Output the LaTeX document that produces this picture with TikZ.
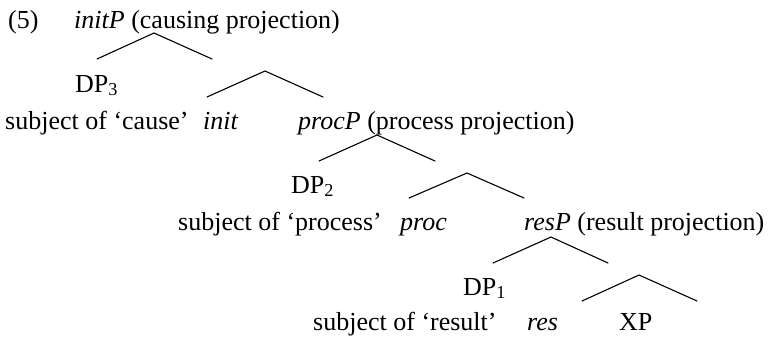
\documentclass[tikz,border=0pt]{standalone}
\usepackage{fontspec}
\setmainfont{Liberation Serif}
\begin{document}
\begin{tikzpicture}[x=1pt,y=-1pt,
  lbl/.style={anchor=base west,inner sep=0pt,font=\fontsize{26}{30}\selectfont},
  lble/.style={anchor=base east,inner sep=0pt,font=\fontsize{26}{30}\selectfont},
  br/.style={line width=1.1pt,line cap=round,line join=miter}]
\useasboundingbox (0,0) rectangle (770,338);
% level 0
\node[lbl] (ex) at (8,28) {(5)};
\node[lbl] (initP) at (74,28) {\textit{initP} (causing projection)};
% level 1
\node[lbl] (dp3) at (75,92) {DP\textsubscript{3}};
\node[lbl] (subj3) at (5,129) {subject of ‘cause’};
\node[lbl] (init) at (203,129) {\textit{init}};
\node[lbl] (procP) at (298,129) {\textit{procP} (process projection)};
% level 2
\node[lbl] (dp2) at (291,193) {DP\textsubscript{2}};
\node[lbl] (subj2) at (178,230) {subject of ‘process’};
\node[lbl] (proc) at (400,230) {\textit{proc}};
\node[lbl] (resP) at (524,230) {\textit{resP} (result projection)};
% level 3
\node[lbl] (dp1) at (463,295) {DP\textsubscript{1}};
\node[lbl] (subj1) at (313,330) {subject of ‘result’};
\node[lbl] (res) at (527,330) {\textit{res}};
\node[lbl] (xp) at (619,330) {XP};
% branch points
\coordinate (a0) at (154,33);  \coordinate (l0) at (97,59);  \coordinate (r0) at (212,59);
\coordinate (a1) at (265,71);  \coordinate (l1) at (207,97); \coordinate (r1) at (323,97);
\coordinate (a2) at (377,135); \coordinate (l2) at (319,161); \coordinate (r2) at (435,161);
\coordinate (a3) at (467,173); \coordinate (l3) at (409,198); \coordinate (r3) at (524,198);
\coordinate (a4) at (551,237); \coordinate (l4) at (493,263); \coordinate (r4) at (608,263);
\coordinate (a5) at (639,275); \coordinate (l5) at (582,301); \coordinate (r5) at (697,301);
\foreach \i in {0,...,5} {
  \draw[br] (l\i) -- (a\i) -- (r\i);
}
\end{tikzpicture}
\end{document}
